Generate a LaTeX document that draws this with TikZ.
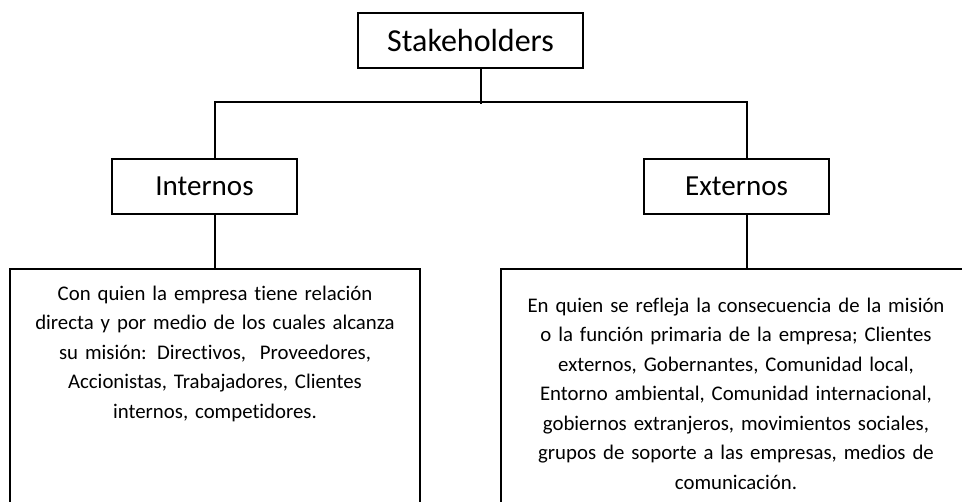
\documentclass[tikz,border=0pt]{standalone}
\usepackage{fontspec}
\setmainfont{Carlito}[RawFeature=-liga]
\newfontfamily\bodyfont{Carlito}[RawFeature=-liga,WordSpace=0.7]
\usetikzlibrary{positioning}

\tikzset{
  head/.style={draw,line width=1.5pt,minimum width=138.75pt,minimum height=41.25pt,
    inner sep=0pt,font=\fontsize{21.8}{26}\selectfont},
  body/.style={draw,line width=1.5pt,anchor=north,align=center,inner xsep=0pt,
    text depth=300pt,font=\bodyfont\fontsize{15.6}{22.1}\selectfont}
}

\begin{document}
\begin{tikzpicture}[x=0.75pt,y=-0.75pt,line width=1.5pt]
        \clip (0,0) rectangle (962,502);

        \node[head,minimum width=168.75pt,font=\fontsize{24}{28}\selectfont] (S) at (470.5,40.5) {Stakeholders};
        \node[head] (I) at (204.5,186.5) {Internos};
        \node[head] (E) at (736.5,186.5) {Externos};

        \node[body,text width=307.5pt,inner ysep=12.7pt] (IB) at (215,268)
          {Con quien la empresa tiene relación\\
           directa y por medio de los cuales alcanza\\
           su misión: Directivos,~ Proveedores,\\
           Accionistas, Trabajadores, Clientes\\
           internos, competidores.};
        \node[body,text width=352.5pt,inner ysep=21.7pt] (EB) at (736,268)
          {En quien se refleja la consecuencia de la misión\\
           o la función primaria de la empresa; Clientes\\
           externos, Gobernantes, Comunidad local,\\
           Entorno ambiental, Comunidad internacional,\\
           gobiernos extranjeros, movimientos sociales,\\
           grupos de soporte a las empresas, medios de\\
           comunicación.};

        \draw ([xshift=7.9pt]S.south) -- ++(0,35);
        \draw ([xshift=7.5pt]I.north) -- ++(0,-56) -| ([xshift=7.9pt]E.north);
        \draw (I.south -| IB.north) -- (IB.north);
        \draw ([xshift=7.9pt]E.south) -- ([xshift=7.9pt]E.south |- EB.north);
\end{tikzpicture}
\end{document}
